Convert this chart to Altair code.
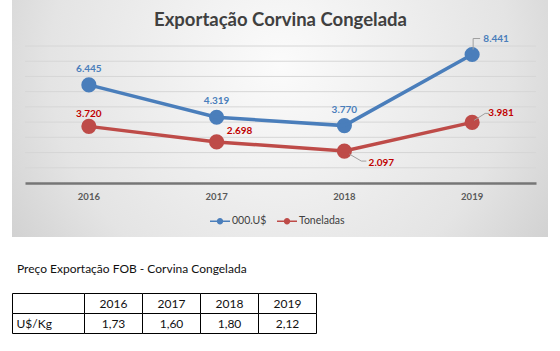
import altair as alt
import pandas as pd

# ---- data ----
years = ["2016", "2017", "2018", "2019"]
series = ["000.U$", "Toneladas"]
usd = [6445, 4319, 3770, 8441]
tons = [3720, 2698, 2097, 3981]
grid_values = [1000, 2000, 3000, 4000, 5000, 6000, 7000, 8000, 9000]
table_rows = ["Ano", "U$/Kg"]
price = [1.73, 1.60, 1.80, 2.12]
title_text = "Exportação Corvina Congelada"
caption_text = "Preço Exportação FOB - Corvina Congelada"

BLUE = "#4a7ebb"
RED = "#be4b48"
BLUE_TXT = "#4a7ebb"
RED_TXT = "#c00000"
FONT = "Lato"

df = pd.DataFrame({
    "ano": years * 2,
    "serie": [series[0]] * len(years) + [series[1]] * len(years),
    "valor": usd + tons,
})

W, H = 511, 137

xs = alt.X("ano:N", scale=alt.Scale(domain=years),
           axis=alt.Axis(title=None, labelAngle=0, ticks=False, grid=False,
                         domainColor="#767676", domainWidth=2.5,
                         labelFont=FONT, labelFontWeight="bold", labelFontSize=9.5,
                         labelColor="#595959", labelPadding=8, zindex=1))
ys = alt.Y("valor:Q", scale=alt.Scale(domain=[0, 9000], nice=False), axis=None)
color_scale = alt.Scale(domain=series, range=[BLUE, RED])

# line-with-dot legend glyph
legend_path = ("M-1,-0.08L1,-0.08L1,0.08L-1,0.08L-1,-0.08"
               "M0.32,0A0.32,0.32,0,1,1,-0.32,0A0.32,0.32,0,1,1,0.32,0")
legend_def = alt.Legend(title=None, orient="none", legendX=185, legendY=165,
                        direction="horizontal", symbolType=legend_path,
                        symbolSize=400, symbolStrokeWidth=0,
                        symbolOpacity=1, zindex=2,
                        labelFont=FONT, labelFontSize=10.5,
                        labelColor="#404040", labelOffset=2,
                        columnPadding=10, padding=0)
color_enc = alt.Color("serie:N", scale=color_scale, legend=legend_def)

# background panel with radial gradient
bg = alt.Chart(pd.DataFrame({"painel": [title_text]})).mark_rect(
    color={"gradient": "radial", "x1": 0.5, "y1": 0.4, "r1": 0.0,
           "x2": 0.5, "y2": 0.4, "r2": 0.78,
           "stops": [{"offset": 0, "color": "#fbfbfb"},
                     {"offset": 0.55, "color": "#e4e4e4"},
                     {"offset": 1, "color": "#bdbdbd"}]}
).encode(x=alt.value(-13), x2=alt.value(523), y=alt.value(-46), y2=alt.value(191))

title = alt.Chart(pd.DataFrame({"titulo": [title_text]})).mark_text(
    font=FONT, fontSize=18.5, fontWeight="bold", color="#404040",
    align="center", baseline="middle"
).encode(x=alt.value(W / 2), y=alt.value(-26), text="titulo:N")

grid = alt.Chart(pd.DataFrame({"g": grid_values})).mark_rule(
    color="#d6d6d6", strokeWidth=1
).encode(y=alt.Y("g:Q", scale=alt.Scale(domain=[0, 9000], nice=False), axis=None))

points = alt.Chart(df).mark_point(filled=True, size=230, opacity=1).encode(
    x=xs, y=ys, color=color_enc)

lines = alt.Chart(df).mark_line(strokeWidth=3.5).encode(
    x=xs, y=ys, color=color_enc)


def label(serie, anos, dx, dy, color):
    return alt.Chart(df).transform_filter(
        alt.FieldEqualPredicate(field="serie", equal=serie)
    ).transform_filter(
        alt.FieldOneOfPredicate(field="ano", oneOf=anos)
    ).mark_text(font=FONT, fontWeight="bold", fontSize=10, color=color,
                dx=dx, dy=dy, baseline="middle").encode(
        x=xs, y=ys, text=alt.Text("valor:Q", format=",.0f"))


def leader(serie, ano, x0, y0, x1, y1):
    return alt.Chart(df).transform_filter(
        alt.FieldEqualPredicate(field="serie", equal=serie)
    ).transform_filter(
        alt.FieldEqualPredicate(field="ano", equal=ano)
    ).mark_rule(color="#a0a0a0", strokeWidth=1,
                xOffset=x0, yOffset=y0, x2Offset=x1, y2Offset=y1).encode(
        x=xs, y=ys, x2="ano:N", y2="valor:Q")


labels = [
    label(series[0], years[:3], 0, -16, BLUE_TXT),
    label(series[0], [years[3]], 24, -16, BLUE_TXT),
    label(series[1], [years[0]], 0, -12, RED_TXT),
    label(series[1], [years[1]], 23, -11, RED_TXT),
    label(series[1], [years[2]], 37, 12, RED_TXT),
    label(series[1], [years[3]], 29, -9, RED_TXT),
]
leaders = [
    leader(series[0], years[3], 1, -5, 1, -16),
    leader(series[0], years[3], 1, -16, 8, -16),
    leader(series[1], years[3], 2, -2, 13, -9),
    leader(series[1], years[3], 13, -9, 17, -9),
    leader(series[1], years[2], 5, 3, 17, 10),
    leader(series[1], years[2], 17, 10, 22, 10),
]

main = alt.layer(bg, title, grid, points, lines, *labels, *leaders)

# ---- price table ----
cells = pd.DataFrame([{"ano": a, "linha": r} for r in table_rows for a in years])
prices = pd.DataFrame({"ano": years, "linha": [table_rows[1]] * len(years), "preco": price})
heads = pd.DataFrame({"ano": years, "linha": [table_rows[0]] * len(years)})

tx = alt.X("ano:N", scale=alt.Scale(type="band", domain=years, range=[59.5, 291.5],
                                    paddingInner=0, paddingOuter=0), axis=None)
ty = alt.Y("linha:N", scale=alt.Scale(type="band", domain=table_rows, range=[247.5, 287.5],
                                      paddingInner=0, paddingOuter=0), axis=None)

t_cells = alt.Chart(cells).mark_rect(fill="white", stroke="black", strokeWidth=1).encode(x=tx, y=ty)
t_heads = alt.Chart(heads).mark_text(font=FONT, fontSize=12, color="#111").encode(
    x=tx, y=ty, text="ano:N")
t_prices = alt.Chart(prices).mark_text(font=FONT, fontSize=12, color="#111").encode(
    x=tx, y=ty, text=alt.Text("preco:Q", format=".2f"))
table_years = alt.layer(t_cells, t_heads, t_prices)

rows_df = pd.DataFrame({"coluna": ["rotulo"] * len(table_rows), "linha": table_rows})
units_df = pd.DataFrame({"coluna": ["rotulo"], "linha": [table_rows[1]], "rotulo": [table_rows[1]]})
lx_scale = alt.Scale(type="band", domain=["rotulo"], range=[-12.5, 59.5], paddingInner=0, paddingOuter=0)
l_cells = alt.Chart(rows_df).mark_rect(fill="white", stroke="black", strokeWidth=1).encode(
    x=alt.X("coluna:N", scale=lx_scale, axis=None), y=ty)
l_text = alt.Chart(units_df).mark_text(font=FONT, fontSize=12, color="#111", align="left", dx=4).encode(
    x=alt.X("coluna:N", scale=lx_scale, axis=None, bandPosition=0), y=ty, text="rotulo:N")
table_label = alt.layer(l_cells, l_text)

caption = alt.Chart(pd.DataFrame({"legenda": [caption_text]})).mark_text(
    font=FONT, fontSize=12, color="#111", align="left", baseline="middle"
).encode(x=alt.value(-8), y=alt.value(223), text="legenda:N")

chart = alt.layer(main, table_years, table_label, caption).resolve_scale(
    x="independent", y="independent"
).properties(
    width=W, height=H,
    padding={"left": 25, "top": 46, "right": 24, "bottom": 168},
    autosize=alt.AutoSizeParams(type="none"),
).configure(
    background="white",
    locale={"number": {"decimal": ",", "thousands": ".", "grouping": [3],
                       "currency": ["R$ ", ""]}},
).configure_view(strokeWidth=0)

chart.save("out.html", embed_options={"renderer": "svg", "actions": False})
